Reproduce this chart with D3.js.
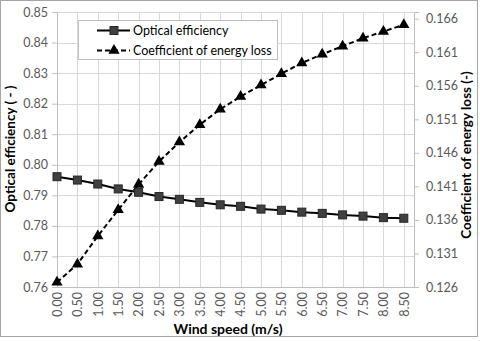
<!DOCTYPE html>
<html>
<head>
<meta charset="utf-8">
<script src="https://cdn.jsdelivr.net/npm/d3@7"></script>
<style>
  body { margin: 0; background: #fff; }
  svg { display: block; font-family: Lato, "Open Sans", sans-serif; }
</style>
</head>
<body>
<svg id="chart" width="480" height="341"></svg>
<script>
// wind speed categories (m/s)
const windSpeed = [0, 0.5, 1, 1.5, 2, 2.5, 3, 3.5, 4, 4.5, 5, 5.5, 6, 6.5, 7, 7.5, 8, 8.5];
// optical efficiency, left axis
const opticalEff = [0.7961, 0.7950, 0.7937, 0.7921, 0.7910, 0.7896, 0.7887, 0.7877, 0.7869,
                    0.7864, 0.7855, 0.7851, 0.7845, 0.7841, 0.7836, 0.7832, 0.7827, 0.7825];
// coefficient of energy loss, right axis
const energyLoss = [0.1267, 0.1294, 0.1336, 0.1375, 0.1413, 0.1447, 0.1476, 0.1502, 0.1525,
                    0.1544, 0.1561, 0.1578, 0.1594, 0.1607, 0.1619, 0.1631, 0.1641, 0.1651];
const leftTicks = [0.76, 0.77, 0.78, 0.79, 0.80, 0.81, 0.82, 0.83, 0.84, 0.85];
const rightTicks = [0.126, 0.131, 0.136, 0.141, 0.146, 0.151, 0.156, 0.161, 0.166];

const svg = d3.select("#chart");
const plotL = 57, plotR = 414, plotT = 12, plotB = 287;

const x = d3.scaleLinear().domain([0, 8.75]).range([plotL, plotR]);
const yL = d3.scaleLinear().domain([0.76, 0.85]).range([plotB, plotT]);
const yR = d3.scaleLinear().domain([0.126, 0.167]).range([plotB, plotT]);

// chart border
svg.append("rect")
    .attr("x", 0.5).attr("y", 0.5).attr("width", 477).attr("height", 336)
    .attr("fill", "#fff").attr("stroke", "#a6a6a6");

// gridlines
svg.append("g").selectAll("line").data(leftTicks).join("line")
    .attr("x1", plotL).attr("x2", plotR)
    .attr("y1", d => Math.round(yL(d)) + 0.5).attr("y2", d => Math.round(yL(d)) + 0.5)
    .attr("stroke", "#d9d9d9");
svg.append("g").selectAll("line").data(windSpeed).join("line")
    .attr("y1", plotT).attr("y2", plotB)
    .attr("x1", d => Math.round(x(d)) + 0.5).attr("x2", d => Math.round(x(d)) + 0.5)
    .attr("stroke", "#d9d9d9");

// axes
const axisL = svg.append("g").attr("transform", `translate(${plotL},0)`)
    .call(d3.axisLeft(yL).tickValues(leftTicks).tickFormat(d3.format(".2f")).tickSize(5).tickPadding(4));
const axisR = svg.append("g").attr("transform", `translate(${plotR},0)`)
    .call(d3.axisRight(yR).tickValues(rightTicks).tickFormat(d3.format(".3f")).tickSize(5).tickPadding(7));
const axisB = svg.append("g").attr("transform", `translate(0,${plotB})`)
    .call(d3.axisBottom(x).tickValues(windSpeed).tickFormat(d3.format(".2f")).tickSize(0).tickPadding(0));
axisB.selectAll("text")
    .attr("transform", "rotate(-90)")
    .attr("x", -5).attr("y", 0).attr("dy", "0.35em")
    .style("text-anchor", "end");

[axisL, axisR, axisB].forEach(g => {
  g.select(".domain").attr("stroke", "#bfbfbf");
  g.selectAll(".tick line").attr("stroke", "#bfbfbf");
  g.selectAll("text").attr("fill", "#595959").attr("font-size", 12.5)
    .attr("font-family", "Lato, sans-serif");
});

// series: coefficient of energy loss (dashed, triangles)
const lossLine = d3.line().x((d, i) => x(windSpeed[i])).y(d => yR(d));
svg.append("path").datum(energyLoss)
    .attr("d", lossLine).attr("fill", "none")
    .attr("stroke", "#000").attr("stroke-width", 2).attr("stroke-dasharray", "5,3");
const tri = d3.symbol().type(d3.symbolTriangle).size(55);
svg.append("g").selectAll("path").data(energyLoss).join("path")
    .attr("d", tri)
    .attr("transform", (d, i) => `translate(${x(windSpeed[i])},${yR(d)})`)
    .attr("fill", "#000");

// series: optical efficiency (solid, squares)
const effLine = d3.line().x((d, i) => x(windSpeed[i])).y(d => yL(d));
svg.append("path").datum(opticalEff)
    .attr("d", effLine).attr("fill", "none")
    .attr("stroke", "#000").attr("stroke-width", 2);
svg.append("g").selectAll("rect").data(opticalEff).join("rect")
    .attr("x", (d, i) => x(windSpeed[i]) - 4).attr("y", d => yL(d) - 4)
    .attr("width", 8).attr("height", 8)
    .attr("fill", "#404040").attr("stroke", "#262626").attr("stroke-width", 1);

// axis titles
svg.append("text")
    .attr("transform", `translate(15,149) rotate(-90)`)
    .attr("text-anchor", "middle").attr("font-weight", "bold").attr("font-size", 13.5)
    .text("Optical efficiency ( - )");
svg.append("text")
    .attr("transform", `translate(471,155) rotate(-90)`)
    .attr("text-anchor", "middle").attr("font-weight", "bold").attr("font-size", 13.5)
    .text("Coefficient of energy loss (-)");
svg.append("text")
    .attr("x", 228).attr("y", 334)
    .attr("text-anchor", "middle").attr("font-weight", "bold").attr("font-size", 14)
    .text("Wind speed (m/s)");

// legend
const legend = svg.append("g");
legend.append("rect")
    .attr("x", 78.5).attr("y", 20.5).attr("width", 199).attr("height", 39)
    .attr("fill", "#fff").attr("stroke", "#bfbfbf");
const legendItems = [
  { label: "Optical efficiency", dash: null, marker: "square" },
  { label: "Coefficient of energy loss", dash: "5,3", marker: "triangle" }
];
legendItems.forEach((item, i) => {
  const cy = 30.5 + i * 20;
  legend.append("line")
      .attr("x1", 97).attr("x2", 130).attr("y1", cy).attr("y2", cy)
      .attr("stroke", "#000").attr("stroke-width", 2)
      .attr("stroke-dasharray", item.dash);
  if (item.marker === "square") {
    legend.append("rect").attr("x", 110).attr("y", cy - 4).attr("width", 8).attr("height", 8)
        .attr("fill", "#404040").attr("stroke", "#262626");
  } else {
    legend.append("path").attr("d", tri).attr("transform", `translate(114,${cy})`).attr("fill", "#000");
  }
  legend.append("text")
      .attr("x", 133).attr("y", cy).attr("dy", "0.35em")
      .attr("font-size", 12.5).attr("fill", "#000")
      .text(item.label);
});
</script>
</body>
</html>
